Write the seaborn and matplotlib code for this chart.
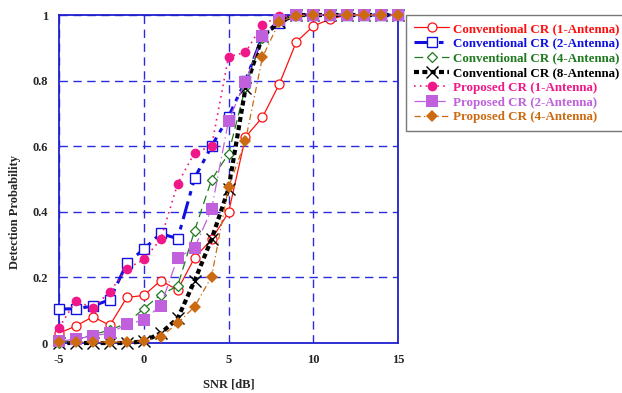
import matplotlib
matplotlib.use("Agg")
import matplotlib.pyplot as plt
import pandas as pd
import seaborn as sns

# SNR axis (dB)
snr = list(range(-5, 16))

# detection probability per scheme
conv_1 = [0.03, 0.052, 0.08, 0.054, 0.139, 0.145, 0.19, 0.162, 0.26, 0.316, 0.398,
          0.628, 0.688, 0.79, 0.918, 0.966, 0.988, 1, 1, 1, 1]
conv_2 = [0.104, 0.104, 0.113, 0.132, 0.243, 0.286, 0.334, 0.318, 0.503, 0.60, 0.69,
          0.80, 0.935, 0.975, 1, 1, 1, 1, 1, 1, 1]
conv_4 = [0.0, 0.012, 0.025, 0.04, 0.06, 0.105, 0.147, 0.174, 0.343, 0.498, 0.577,
          0.78, 0.93, 0.985, 1, 1, 1, 1, 1, 1, 1]
conv_8 = [0.0, 0.0, 0.0, 0.0, 0.0, 0.005, 0.03, 0.075, 0.19, 0.317, 0.47,
          0.777, 0.935, 0.98, 1, 1, 1, 1, 1, 1, 1]
prop_1 = [0.047, 0.129, 0.106, 0.157, 0.226, 0.255, 0.316, 0.486, 0.58, 0.60, 0.873,
          0.886, 0.97, 0.997, 1, 1, 1, 1, 1, 1, 1]
prop_2 = [0.005, 0.012, 0.022, 0.03, 0.057, 0.07, 0.114, 0.26, 0.29, 0.408, 0.678,
          0.797, 0.936, 0.985, 1, 1, 1, 1, 1, 1, 1]
prop_4 = [0.003, 0.003, 0.003, 0.003, 0.003, 0.006, 0.019, 0.06, 0.111, 0.202, 0.475,
          0.617, 0.871, 0.98, 0.997, 1, 1, 1, 1, 1, 1]

labels = ["Conventional CR (1-Antenna)", "Conventional CR (2-Antenna)",
          "Conventional CR (4-Antenna)", "Conventional CR (8-Antenna)",
          "Proposed CR (1-Antenna)", "Proposed CR (2-Antenna)",
          "Proposed CR (4-Antenna)"]

sns.set_style("white")
plt.rcParams['font.family'] = ['Liberation Serif', 'DejaVu Serif']
plt.rcParams['font.weight'] = 'bold'
plt.rcParams['axes.unicode_minus'] = False

# line / marker style for each series
styles = [
    dict(color="#ff1010", ls="-", lw=0.9, marker="o", ms=6.5, mfc="white", mew=0.9),
    dict(color="#1010e0", ls=(0, (6, 2, 1.5, 2)), lw=2.2, marker="s", ms=6.5, mfc="white", mew=1.0),
    dict(color="#207a20", ls=(0, (7, 4)), lw=0.9, marker="D", ms=5.5, mfc="white", mew=0.9),
    dict(color="black", ls=(0, (1.2, 0.8)), lw=3.0, marker="x", ms=8, mew=1.0),
    dict(color="#f01888", ls=(0, (1, 2.5)), lw=1.2, marker="o", ms=7, mew=0),
    dict(color="#c060dd", ls=(0, (9, 3, 1, 3)), lw=0.9, marker="s", ms=8, mew=0),
    dict(color="#cc6a12", ls=(0, (5, 2.5, 1, 2.5)), lw=0.9, marker="D", ms=6.5, mew=0),
]
series = [conv_1, conv_2, conv_4, conv_8, prop_1, prop_2, prop_4]

fig = plt.figure(figsize=(6.22, 3.93), dpi=100)
ax = fig.add_axes([0.0949, 0.1272, 0.5450, 0.8346])

for vals, lab, st in zip(series, labels, styles):
    df = pd.DataFrame({"snr": snr, "pd": vals})
    sns.lineplot(data=df, x="snr", y="pd", ax=ax, label=lab, color=st["color"],
                 linestyle=st["ls"], linewidth=st["lw"], marker=st["marker"],
                 markersize=st["ms"], markerfacecolor=st.get("mfc", st["color"]),
                 markeredgecolor=st["color"], markeredgewidth=st["mew"],
                 clip_on=False, zorder=3)

ax.set_xlim(-5, 15)
ax.set_ylim(0, 1)
ax.set_xticks([-5, 0, 5, 10, 15])
ax.set_yticks([0, 0.2, 0.4, 0.6, 0.8, 1])
ax.set_yticklabels(["0", "0.2", "0.4", "0.6", "0.8", "1"])
ax.tick_params(labelsize=9, direction="in", length=3, color="#2020d0", pad=8)
for t in ax.get_xticklabels() + ax.get_yticklabels():
    t.set_fontweight("bold")

ax.grid(True, color="#2a2ae0", linestyle=(0, (6, 4)), linewidth=1.0)
for sp in ax.spines.values():
    sp.set_color("#2020d0")
    sp.set_linewidth(1.3)

ax.set_xlabel("SNR [dB]", fontsize=9, fontweight="bold", labelpad=9)
ax.set_ylabel("Detection Probability", fontsize=9, fontweight="bold")
ax.yaxis.set_label_coords(-0.112, 0.40)

leg = ax.legend(loc="upper left", bbox_to_anchor=(1.024, 1.0), borderaxespad=0,
                frameon=True, fancybox=False, edgecolor="#555555",
                handlelength=2.7, handletextpad=0.3, labelspacing=0.2,
                borderpad=0.6, markerscale=1.0,
                prop={"weight": "bold", "size": 9.4})
leg.get_frame().set_linewidth(1.0)
for txt, st in zip(leg.get_texts(), styles):
    txt.set_color(st["color"])

fig.savefig("out.png", dpi=100)
